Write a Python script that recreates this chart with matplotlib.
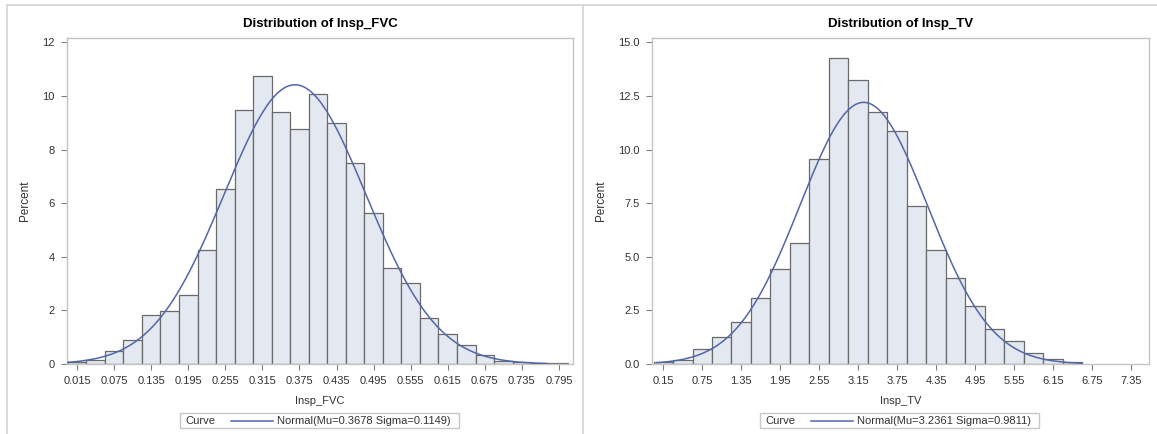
import numpy as np
import matplotlib
matplotlib.use("Agg")
import matplotlib.pyplot as plt
from matplotlib.patches import Rectangle
from matplotlib.lines import Line2D

plt.rcParams['font.family'] = ['Liberation Sans', 'DejaVu Sans']

# ---- data ----
fvc_mids = [0.015 + 0.03 * i for i in range(27)]
fvc_pct = [0.07, 0.15, 0.47, 0.90, 1.83, 1.97, 2.57, 4.26, 6.54, 9.47, 10.75,
           9.41, 8.75, 10.08, 9.00, 7.48, 5.64, 3.58, 3.03, 1.72, 1.12, 0.71,
           0.34, 0.10, 0.06, 0.03, 0.04]
fvc_width = 0.03
fvc_mu, fvc_sigma = 0.3678, 0.1149
fvc_ticks = [0.015 + 0.06 * i for i in range(14)]
fvc_yticks = [0, 2, 4, 6, 8, 10, 12]

tv_mids = [0.15 + 0.3 * i for i in range(22)]
tv_pct = [0.08, 0.19, 0.70, 1.26, 1.95, 3.08, 4.44, 5.65, 9.58, 14.25, 13.22,
          11.76, 10.87, 7.37, 5.33, 4.02, 2.71, 1.64, 1.06, 0.51, 0.25, 0.08]
tv_width = 0.3
tv_mu, tv_sigma = 3.2361, 0.9811
tv_ticks = [0.15 + 0.6 * i for i in range(13)]
tv_yticks = [0.0, 2.5, 5.0, 7.5, 10.0, 12.5, 15.0]

W, H = 1157, 434
fig = plt.figure(figsize=(W / 100, H / 100), dpi=100)

BAR_FC = '#e3e8f1'
BAR_EC = '#6a6a6a'
CURVE = '#5366a6'
SPINE = '#c4c4c4'
TXT = '#333333'

# panel frame lines
for (x0, y0, x1, y1) in [(7, 5, 7, H), (7, 5, W, 5), (583, 5, 583, H)]:
    fig.add_artist(Line2D([x0 / W, x1 / W], [1 - y0 / H, 1 - y1 / H],
                          color='#d4d4d4', lw=1.2, transform=fig.transFigure))


def panel(left_px, right_px, mids, pct, width, mu, sigma, xticks, xfmt,
          yticks, yfmt, xlim, ylim, title, xlabel, curve_range, leg_box):
    top_px, bot_px = 38, 364
    ax = fig.add_axes([left_px / W, 1 - bot_px / H,
                       (right_px - left_px) / W, (bot_px - top_px) / H])
    ax.bar(mids, pct, width=width, color=BAR_FC, edgecolor=BAR_EC, lw=0.9,
           zorder=2)
    xs = np.linspace(curve_range[0], curve_range[1], 400)
    ys = 100 * width * np.exp(-0.5 * ((xs - mu) / sigma) ** 2) / (sigma * np.sqrt(2 * np.pi))
    ax.plot(xs, ys, color=CURVE, lw=1.1, zorder=3)
    ax.set_xlim(*xlim)
    ax.set_ylim(*ylim)
    ax.set_xticks(xticks)
    ax.set_xticklabels([xfmt.format(t) for t in xticks])
    ax.set_yticks(yticks)
    ax.set_yticklabels([yfmt.format(t) for t in yticks])
    for s in ax.spines.values():
        s.set_color(SPINE)
        s.set_linewidth(1.0)
    ax.tick_params(colors='#808080', labelcolor=TXT, labelsize=8, length=4,
                   width=0.8, pad=5)
    ax.set_title(title, fontsize=9.5, fontweight='bold', color='black', pad=8)
    ax.set_xlabel(xlabel, fontsize=8, color=TXT, labelpad=7)
    ax.set_ylabel('Percent', fontsize=8.5, color=TXT, labelpad=8)

    # legend box
    bx0, bx1, by0, by1 = leg_box
    fig.add_artist(Rectangle((bx0 / W, 1 - by1 / H), (bx1 - bx0) / W,
                             (by1 - by0) / H, transform=fig.transFigure,
                             fc='white', ec='#c8c8c8', lw=1.0, zorder=1))
    yc = 1 - ((by0 + by1) / 2) / H
    fig.text((bx0 + 5) / W, yc, 'Curve', fontsize=8, color=TXT,
             va='center', ha='left', zorder=3)
    fig.add_artist(Line2D([(bx0 + 51) / W, (bx0 + 93) / W], [yc, yc],
                          color=CURVE, lw=1.1, transform=fig.transFigure,
                          zorder=3))
    fig.text((bx0 + 97) / W, yc,
             'Normal(Mu={:.4f} Sigma={:.4f})'.format(mu, sigma),
             fontsize=8, color=TXT, va='center', ha='left', zorder=3)
    return ax


panel(67, 573, fvc_mids, fvc_pct, fvc_width, fvc_mu, fvc_sigma, fvc_ticks,
      '{:.3f}', fvc_yticks, '{:d}', (-0.0012, 0.8177), (0, 12.16),
      'Distribution of Insp_FVC', 'Insp_FVC', (0.0, 0.775), (180, 459, 413, 428))

panel(652, 1149, tv_mids, tv_pct, tv_width, tv_mu, tv_sigma, tv_ticks,
      '{:.2f}', tv_yticks, '{:.1f}', (-0.024, 7.63), (0, 15.2),
      'Distribution of Insp_TV', 'Insp_TV', (0.05, 6.6), (760, 1039, 413, 428))

fig.savefig('out.png', dpi=100)
